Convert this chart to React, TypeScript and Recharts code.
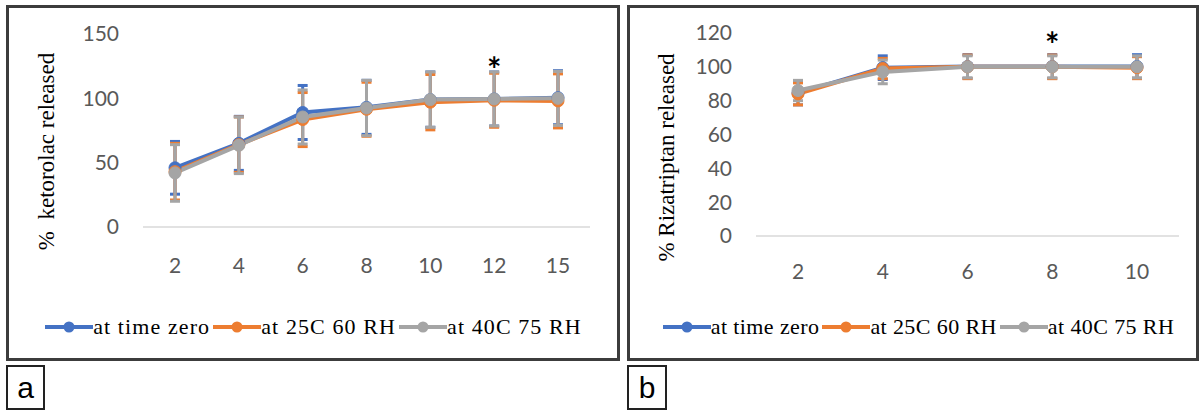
import { LineChart, Line, XAxis, YAxis, ErrorBar, ReferenceDot, Legend } from 'recharts'

// panel a: ketorolac release
const timesA = ['2', '4', '6', '8', '10', '12', '15']
const zeroA = [46, 65, 89, 93, 99, 99.5, 100.5]
const rh60A = [43, 64, 83.5, 91.5, 97, 98.5, 98]
const rh75A = [42, 63.5, 85.5, 92.5, 99, 99.5, 100]
const zeroErrA = [20.5, 21, 21, 21, 21.5, 21, 21]
const rh60ErrA = [22, 21.5, 21, 21, 21.5, 21, 21]
const rh75ErrA = [22, 22, 21, 21.5, 21.5, 21, 21]
const ticksA = [0, 50, 100, 150]

// panel b: rizatriptan release
const timesB = ['2', '4', '6', '8', '10']
const zeroB = [84.5, 99.5, 100.2, 100.2, 100.2]
const rh60B = [84, 99, 100, 100, 99.5]
const rh75B = [86, 97, 100, 100, 100]
const zeroErrB = [7, 7, 7, 7, 7]
const rh60ErrB = [6.5, 6, 7, 7, 6.5]
const rh75ErrB = [6, 7, 6.5, 6.5, 6.5]
const ticksB = [0, 20, 40, 60, 80, 100, 120]

const SERIES = [
  { key: 'zero', name: 'at time zero', color: '#4472c4' },
  { key: 'rh60', name: 'at 25C 60 RH', color: '#ed7d31' },
  { key: 'rh75', name: 'at 40C 75 RH', color: '#a5a5a5' },
]

const rowsA = timesA.map((t, i) => ({
  t,
  zero: zeroA[i], zeroErr: zeroErrA[i],
  rh60: rh60A[i], rh60Err: rh60ErrA[i],
  rh75: rh75A[i], rh75Err: rh75ErrA[i],
}))

const rowsB = timesB.map((t, i) => ({
  t,
  zero: zeroB[i], zeroErr: zeroErrB[i],
  rh60: rh60B[i], rh60Err: rh60ErrB[i],
  rh75: rh75B[i], rh75Err: rh75ErrB[i],
}))

const SERIF = '"Liberation Serif", "Times New Roman", serif'
const SANS = 'Lato, "Open Sans", sans-serif'

const seriesOrder = (item: any) => SERIES.findIndex((s) => s.name === item.value)

function LegendRow({ payload, spacing }: any) {
  return (
    <div style={{
      display: 'flex', justifyContent: 'center', alignItems: 'center',
      fontFamily: SERIF, fontSize: 22, letterSpacing: spacing, color: '#000', whiteSpace: 'nowrap',
    }}>
      {(payload || []).map((p: any) => (
        <span key={p.value} style={{ display: 'inline-flex', alignItems: 'center', marginRight: 3 }}>
          <svg width={48} height={14}>
            <line x1={0} x2={48} y1={7} y2={7} stroke={p.color} strokeWidth={4} />
            <circle cx={24} cy={7} r={5.5} fill={p.color} />
          </svg>
          <span>{p.value}</span>
        </span>
      ))}
    </div>
  )
}

const yLabel = (text: string, dx: number, dy: number) => ({ viewBox }: any) => {
  const x = viewBox.x + dx
  const y = viewBox.y + viewBox.height / 2 + dy
  return (
    <text x={x} y={y} transform={`rotate(-90 ${x} ${y})`} textAnchor="middle"
      dominantBaseline="central" fontFamily={SERIF} fontSize={23} fill="#000"
      style={{ whiteSpace: 'pre' }}>
      {text}
    </text>
  )
}

function Panel({ rows, width, ticks, max, yAxisW, margin, label, labelDy, starX, starY, tickGap, pad, legendLeft, spacing }: any) {
  return (
    <LineChart width={width} height={361} data={rows} margin={margin}>
      <XAxis dataKey="t" axisLine={{ stroke: '#d9d9d9', strokeWidth: 1.5 }} tickLine={false}
        tickSize={0} tickMargin={tickGap} height={60} padding={{ left: pad, right: pad }}
        tick={{ fontSize: 21, fill: '#595959', fontFamily: SANS }} />
      <YAxis domain={[0, max]} ticks={ticks} axisLine={false} tickLine={false} tickSize={0}
        tickMargin={24} width={yAxisW} interval={0}
        tick={{ fontSize: 21, fill: '#595959', fontFamily: SANS }}
        label={{ content: yLabel(label, 46, labelDy) }} />
      {SERIES.map((s) => (
        <Line key={s.key} dataKey={s.key} name={s.name} stroke={s.color} strokeWidth={4}
          dot={{ r: 6, fill: s.color, stroke: s.color, strokeWidth: 1 }}
          activeDot={false} isAnimationActive={false}>
          <ErrorBar dataKey={`${s.key}Err`} width={5} stroke={s.color} strokeWidth={3}
            direction="y" isAnimationActive={false} />
        </Line>
      ))}
      <ReferenceDot x={starX} y={starY} r={0} fill="none" stroke="none"
        label={{ value: '*', position: 'center', fontSize: 34, fontWeight: 'bold', fill: '#000', fontFamily: SANS }} />
      <Legend verticalAlign="middle" align="center" layout="horizontal" itemSorter={seriesOrder}
        wrapperStyle={{ top: 314, left: legendLeft, width: width }} content={<LegendRow spacing={spacing} />} />
    </LineChart>
  )
}

export default function App() {
  return (
    <div style={{ position: 'absolute', left: 0, top: 0, width: 1200, height: 411, background: '#fff' }}>
      <div style={{ position: 'absolute', left: 6, top: 5, width: 608, height: 350, border: '3px solid #3c3c3c' }} />
      <div style={{ position: 'absolute', left: 627, top: 5, width: 566, height: 350, border: '3px solid #3c3c3c' }} />
      <div style={{ position: 'absolute', left: 6, top: 365, width: 35, height: 41, border: '2px solid #222',
        fontFamily: '"Liberation Sans", Arial, sans-serif', fontSize: 30, lineHeight: '41px', textAlign: 'center' }}>a</div>
      <div style={{ position: 'absolute', left: 627, top: 365, width: 36, height: 41, border: '2px solid #222',
        fontFamily: '"Liberation Sans", Arial, sans-serif', fontSize: 30, lineHeight: '41px', textAlign: 'center' }}>b</div>

      <div style={{ position: 'absolute', left: 0, top: 0 }}>
        <Panel rows={rowsA} width={620} ticks={ticksA} max={150} yAxisW={143}
          margin={{ top: 34, right: 30, bottom: 74, left: 0 }} pad={32} spacing={1.1}
          label="%  ketorolac released" labelDy={21} starX="12" starY={122} tickGap={31} legendLeft={5} />
      </div>
      <div style={{ position: 'absolute', left: 620, top: 0 }}>
        <Panel rows={rowsB} width={580} ticks={ticksB} max={120} yAxisW={136}
          margin={{ top: 33, right: 21, bottom: 65, left: 0 }} pad={42} spacing={0.4}
          label="% Rizatriptan released" labelDy={23} starX="8" starY={113} tickGap={28} legendLeft={10} />
      </div>
    </div>
  )
}
